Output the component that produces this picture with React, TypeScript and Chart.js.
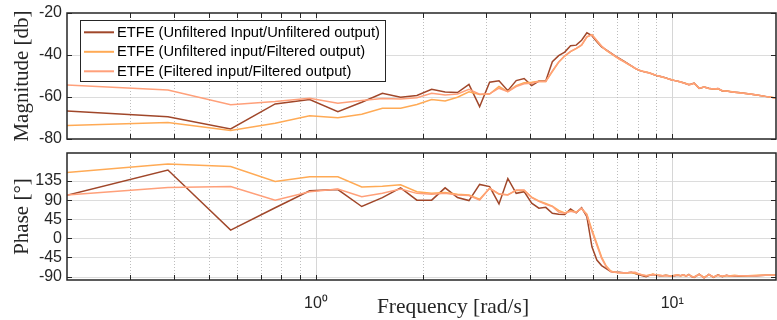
import React, { useEffect, useRef } from 'react';
import { Chart, registerables } from 'chart.js';
Chart.register(...registerables);

// ---------------- data ----------------
const freq = [
  0.192, 0.384, 0.576, 0.768, 0.96, 1.152, 1.344, 1.536, 1.728, 1.92,
  2.112, 2.304, 2.496, 2.688, 2.88, 3.072, 3.264, 3.456, 3.648, 3.84,
  4.032, 4.224, 4.416, 4.608, 4.8, 4.992, 5.184, 5.376, 5.568, 5.76,
  5.952, 6.144, 6.336, 6.528, 6.72, 6.912, 7.104, 7.296, 7.488, 7.68,
  7.872, 8.064, 8.256, 8.448, 8.64, 8.832, 9.024, 9.216, 9.408, 9.6,
  9.792, 9.984, 10.176, 10.368, 10.56, 10.752, 10.944, 11.136, 11.328, 11.52,
  11.904, 12.288, 12.672, 13.056, 13.44, 13.824, 14.208, 14.592, 14.976, 15.36,
  16.32, 17.28, 18.24, 19.2, 19.584,
];

const magUnfUnf = [
  -66.5, -69.4, -75.2, -63.3, -61.2, -67.0, -62.5, -58.2, -60.1, -59.3,
  -56.3, -57.6, -57.9, -54.0, -64.6, -53.0, -52.3, -57.0, -52.2, -51.2,
  -54.6, -52.4, -52.4, -43.2, -40.3, -38.6, -35.6, -35.3, -33.0, -29.4,
  -30.8, -33.7, -36.2, -37.6, -39.0, -40.4, -41.6, -42.8, -44.0, -45.2,
  -46.4, -47.3, -47.8, -48.2, -48.5, -49.2, -49.8, -50.1, -50.5, -50.9,
  -51.4, -51.9, -52.2, -52.5, -52.8, -53.2, -53.7, -54.1, -53.8, -53.4,
  -55.9, -55.2, -55.8, -56.3, -56.0, -57.1, -57.2, -57.5, -57.7, -57.9,
  -58.5, -59.1, -59.7, -60.3, -60.5,
];
const magUnfFil = [
  -73.6, -72.2, -76.0, -72.5, -68.9, -69.9, -68.2, -65.4, -65.4, -63.6,
  -61.2, -61.9, -60.1, -57.5, -58.8, -58.6, -55.0, -57.4, -54.6, -53.2,
  -53.0, -52.5, -52.6, -47.9, -43.5, -40.5, -38.4, -37.0, -35.3, -31.5,
  -30.3, -33.2, -35.8, -37.8, -39.2, -40.6, -41.9, -43.0, -44.2, -45.3,
  -46.4, -47.2, -47.7, -48.1, -48.6, -49.2, -49.7, -50.1, -50.6, -51.0,
  -51.4, -51.8, -52.2, -52.5, -52.9, -53.3, -53.6, -54.0, -53.9, -53.5,
  -55.8, -55.3, -55.9, -56.2, -56.1, -57.0, -57.2, -57.4, -57.7, -58.0,
  -58.5, -59.0, -59.7, -60.2, -60.5,
];
const magFilFil = [
  -54.1, -56.7, -63.7, -62.2, -60.6, -63.0, -61.7, -60.7, -61.0, -60.4,
  -58.2, -59.0, -58.6, -56.3, -58.7, -58.5, -55.8, -57.5, -55.0, -53.7,
  -53.4, -52.6, -52.6, -47.6, -43.3, -40.4, -38.3, -36.8, -35.2, -31.3,
  -30.4, -33.1, -35.8, -37.7, -39.1, -40.5, -41.9, -43.0, -44.1, -45.2,
  -46.3, -47.2, -47.7, -48.2, -48.6, -49.2, -49.7, -50.1, -50.5, -51.0,
  -51.4, -51.9, -52.2, -52.5, -52.9, -53.3, -53.7, -54.1, -53.9, -53.4,
  -55.8, -55.3, -55.9, -56.2, -56.0, -57.0, -57.2, -57.5, -57.7, -58.0,
  -58.5, -59.1, -59.7, -60.3, -60.6,
];

const phUnfUnf = [
  98, 161, 19.6, 72, 112, 115, 75, 96, 119, 90,
  90, 119, 96, 89, 127, 122, 81, 141, 106, 110,
  83, 71, 73, 59, 57, 56, 69, 60, 72, 51,
  -20, -51, -64, -71, -78, -80, -80, -81, -81, -80,
  -83, -86, -88, -90, -87, -85, -87, -88, -88, -87,
  -88, -89, -88, -87, -88, -86, -89, -85, -90, -92,
  -84, -93, -85, -92, -86, -90, -87, -89, -88, -89,
  -88, -88, -87, -87, -87,
];
const phUnfFil = [
  154, 175, 169, 134, 145, 145, 121, 123, 126, 110,
  106, 108, 104, 102, 92, 118, 104, 103, 113, 113,
  97, 88, 82, 76, 66, 60, 65, 62, 70, 57,
  20, -12, -44, -65, -77, -80, -81, -81, -81, -81,
  -82, -84, -86, -88, -86, -84, -86, -87, -88, -87,
  -88, -88, -87, -86, -88, -87, -88, -86, -89, -91,
  -85, -92, -86, -91, -87, -89, -88, -88, -87, -88,
  -88, -87, -87, -87, -87,
];
const phFilFil = [
  101, 120, 122, 90, 110, 116, 98, 106, 116, 106,
  104, 106, 102, 101, 90, 118, 105, 102, 114, 114,
  96, 87, 80, 75, 62, 59, 64, 61, 71, 55,
  16, -16, -47, -67, -78, -80, -81, -81, -81, -80,
  -80, -84, -86, -88, -87, -85, -87, -87, -88, -88,
  -88, -89, -87, -86, -88, -86, -89, -86, -90, -91,
  -85, -93, -85, -91, -87, -89, -87, -89, -88, -88,
  -88, -88, -87, -87, -87,
];

const seriesLabels = [
  'ETFE (Unfiltered Input/Unfiltered output)',
  'ETFE (Unfiltered input/Filtered output)',
  'ETFE (Filtered input/Filtered output)',
];

const magTicks = [-80, -60, -40, -20];
const phaseTicks = [-90, -45, 0, 45, 90, 135];
const freqTicks = [0.2, 0.3, 0.4, 0.5, 0.6, 0.7, 0.8, 0.9, 1, 2, 3, 4, 5, 6, 7, 8, 9, 10];
const freqMajor = [1, 10];
const freqLabels: Record<string, string> = { '1': '10\u2070', '10': '10\u00B9' };

const xTitle = 'Frequency [rad/s]';
const magTitle = 'Magnitude [db]';
const phaseTitle = 'Phase [\u00B0]';

// ---------------- styles ----------------
const COLORS = ['#A0472A', '#FFAA55', '#FFA07A'];
const AXIS = '#262626';
const SANS = '"Liberation Sans", Arial, sans-serif';
const SERIF = '"Liberation Serif", "Times New Roman", serif';

function axesPlugin(yTicks: number[], extra?: (chart: any) => void) {
  return {
    id: 'matlabAxes',
    beforeDatasetsDraw(chart: any) {
      const { ctx, chartArea: a, scales } = chart;
      const x = scales.x;
      const y = scales.y;
      ctx.save();
      ctx.lineWidth = 1;
      ctx.strokeStyle = '#dcdcdc';
      for (const v of yTicks) {
        const py = Math.round(y.getPixelForValue(v)) + 0.5;
        if (py <= a.top + 1 || py >= a.bottom - 1) continue;
        ctx.beginPath();
        ctx.moveTo(a.left, py);
        ctx.lineTo(a.right, py);
        ctx.stroke();
      }
      for (const v of freqTicks) {
        const px = Math.round(x.getPixelForValue(v)) + 0.5;
        if (px <= a.left + 1 || px >= a.right - 1) continue;
        const major = freqMajor.includes(v);
        ctx.strokeStyle = major ? '#d6d6d6' : '#bdbdbd';
        ctx.setLineDash(major ? [] : [1, 2]);
        ctx.beginPath();
        ctx.moveTo(px, a.top);
        ctx.lineTo(px, a.bottom);
        ctx.stroke();
      }
      ctx.restore();
    },
    afterDatasetsDraw(chart: any) {
      const { ctx, chartArea: a, scales } = chart;
      const x = scales.x;
      const y = scales.y;
      ctx.save();
      ctx.strokeStyle = AXIS;
      ctx.lineWidth = 1;
      const tl = 5;
      for (const v of freqTicks) {
        const px = Math.round(x.getPixelForValue(v)) + 0.5;
        if (px <= a.left + 1 || px >= a.right - 1) continue;
        ctx.beginPath();
        ctx.moveTo(px, a.top);
        ctx.lineTo(px, a.top + tl);
        ctx.moveTo(px, a.bottom);
        ctx.lineTo(px, a.bottom - tl);
        ctx.stroke();
      }
      for (const v of yTicks) {
        const py = Math.round(y.getPixelForValue(v)) + 0.5;
        ctx.beginPath();
        ctx.moveTo(a.left, py);
        ctx.lineTo(a.left + tl, py);
        ctx.moveTo(a.right, py);
        ctx.lineTo(a.right - tl, py);
        ctx.stroke();
      }
      ctx.lineWidth = 1.5;
      ctx.strokeRect(a.left, a.top, a.right - a.left, a.bottom - a.top);
      ctx.restore();
    },
    afterDraw(chart: any) {
      if (extra) extra(chart);
    },
  };
}

function drawLegend(chart: any) {
  const ctx = chart.ctx;
  const ds = chart.data.datasets;
  const bx = 80.5, by = 20.5, bw = 305, bh = 61;
  ctx.save();
  ctx.fillStyle = '#ffffff';
  ctx.fillRect(bx, by, bw, bh);
  ctx.strokeStyle = AXIS;
  ctx.lineWidth = 1;
  ctx.strokeRect(bx, by, bw, bh);
  ctx.font = `14.7px ${SANS}`;
  ctx.textBaseline = 'middle';
  ctx.textAlign = 'left';
  const rows = [32.3, 51.8, 71.3];
  ds.forEach((d: any, i: number) => {
    ctx.strokeStyle = d.borderColor;
    ctx.lineWidth = 2;
    ctx.beginPath();
    ctx.moveTo(84, rows[i]);
    ctx.lineTo(114, rows[i]);
    ctx.stroke();
    ctx.fillStyle = '#000000';
    ctx.fillText(d.label, 117, rows[i] + 0.5);
  });
  ctx.restore();
}

function drawXTitle(chart: any) {
  const ctx = chart.ctx;
  ctx.save();
  ctx.font = `21.5px ${SERIF}`;
  ctx.fillStyle = AXIS;
  ctx.textAlign = 'center';
  ctx.textBaseline = 'alphabetic';
  ctx.fillText(xTitle, 453, 163);
  ctx.restore();
}

function makeDatasets(series: number[][]) {
  return series.map((s, i) => ({
    label: seriesLabels[i],
    data: freq.map((f, j) => ({ x: f, y: s[j] })),
    borderColor: COLORS[i],
    backgroundColor: COLORS[i],
    borderWidth: 1.5,
    pointRadius: 0,
    tension: 0,
    fill: false,
    order: 3 - i,
  }));
}

function xScale(showLabels: boolean, height: number) {
  return {
    type: 'logarithmic' as const,
    min: 0.2,
    max: 19.56,
    bounds: 'data' as const,
    afterBuildTicks: (s: any) => {
      s.ticks = freqTicks.map((v) => ({ value: v }));
    },
    afterFit: (s: any) => {
      s.height = height;
      s.paddingLeft = 0;
      s.paddingRight = 0;
    },
    ticks: {
      display: showLabels,
      autoSkip: false,
      maxRotation: 0,
      minRotation: 0,
      padding: 14,
      color: AXIS,
      font: { family: SANS, size: 16 },
      callback: (v: any) => freqLabels[String(v)] ?? '',
    },
    grid: { drawOnChartArea: false, drawTicks: false },
    border: { display: false },
  };
}

function yScale(min: number, max: number, ticks: number[], title: string) {
  return {
    type: 'linear' as const,
    min,
    max,
    bounds: 'data' as const,
    afterBuildTicks: (s: any) => {
      s.ticks = ticks.map((v) => ({ value: v }));
    },
    afterFit: (s: any) => {
      s.width = 67;
      s.paddingTop = 0;
      s.paddingBottom = 0;
    },
    ticks: {
      padding: 5,
      color: AXIS,
      font: { family: SANS, size: 16 },
      callback: (v: any) => String(v),
    },
    grid: { drawOnChartArea: false, drawTicks: false },
    border: { display: false },
    title: {
      display: true,
      text: title,
      color: AXIS,
      font: { family: SERIF, size: 21 },
      padding: { top: 10, bottom: 0 },
    },
  };
}

export default function App() {
  const topRef = useRef<HTMLCanvasElement>(null);
  const botRef = useRef<HTMLCanvasElement>(null);

  useEffect(() => {
    const common = {
      responsive: false,
      maintainAspectRatio: false,
      animation: false as const,
      devicePixelRatio: 1,
      plugins: { legend: { display: false }, tooltip: { enabled: false } },
      events: [] as any[],
    };
    const top = new Chart(topRef.current as HTMLCanvasElement, {
      type: 'line',
      data: { datasets: makeDatasets([magUnfUnf, magUnfFil, magFilFil]) as any },
      options: {
        ...common,
        layout: { padding: { top: 13, right: 1, left: 0, bottom: 0 } },
        scales: { x: xScale(false, 11) as any, y: yScale(-80, -20, magTicks, magTitle) as any },
      },
      plugins: [axesPlugin(magTicks, drawLegend)],
    });
    const bot = new Chart(botRef.current as HTMLCanvasElement, {
      type: 'line',
      data: { datasets: makeDatasets([phUnfUnf, phUnfFil, phFilFil]) as any },
      options: {
        ...common,
        layout: { padding: { top: 3, right: 1, left: 0, bottom: 0 } },
        scales: { x: xScale(true, 40) as any, y: yScale(-98, 201, phaseTicks, phaseTitle) as any },
      },
      plugins: [axesPlugin(phaseTicks, drawXTitle)],
    });
    return () => {
      top.destroy();
      bot.destroy();
    };
  }, []);

  return (
    <div style={{ position: 'fixed', left: 0, top: 0, width: 777, height: 320, background: '#ffffff' }}>
      <canvas ref={topRef} width={777} height={150} style={{ position: 'absolute', left: 0, top: 0, width: 777, height: 150 }} />
      <canvas ref={botRef} width={777} height={170} style={{ position: 'absolute', left: 0, top: 150, width: 777, height: 170 }} />
    </div>
  );
}
